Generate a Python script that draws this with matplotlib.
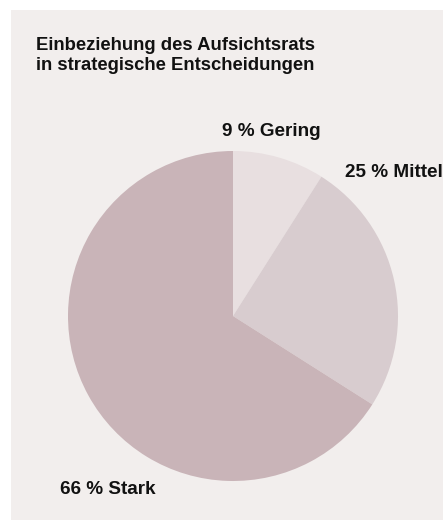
import matplotlib.pyplot as plt
from matplotlib.patches import Rectangle

# Data
categories = ['Gering', 'Mittel', 'Stark']
shares = [9, 25, 66]
colors = ['#e8dfe0', '#d8cccf', '#c9b4b8']
title = 'Einbeziehung des Aufsichtsrats\nin strategische Entscheidungen'

W, H = 443, 520
fig = plt.figure(figsize=(W / 100, H / 100), dpi=100)
fig.patch.set_facecolor('white')

# light panel behind everything
fig.patches.append(Rectangle((11 / W, 0), 1, 1 - 10 / H, transform=fig.transFigure,
                             facecolor='#f2eeed', edgecolor='none', zorder=-5))

font = ['Liberation Sans', 'DejaVu Sans']
fs = 13.6

# pie: center (233, 316) px, radius 165 px
cx, cy, r = 233, 316, 165
ax = fig.add_axes([(cx - r) / W, (H - cy - r) / H, 2 * r / W, 2 * r / H])
ax.set_zorder(1)
ax.patch.set_visible(False)
ax.pie(shares, colors=colors, startangle=90, counterclock=False,
       wedgeprops=dict(linewidth=0))
ax.set_xlim(-1, 1)
ax.set_ylim(-1, 1)
ax.set_aspect('equal')
ax.axis('off')

fig.text(36 / W, 1 - 55.5 / H, title, ha='left', va='center', fontsize=13.3,
         fontweight='bold', family=font, linespacing=1.25, color='#111111')

label_pos = [(222, 131, 'left'), (345, 173, 'left'), (60, 490, 'left')]
for (x, y, ha), cat, val in zip(label_pos, categories, shares):
    fig.text(x / W, 1 - y / H, f'{val} % {cat}', ha=ha, va='center',
             fontsize=fs, fontweight='bold', family=font, color='#111111',
             zorder=2)

fig.savefig('out.png', dpi=100, facecolor=fig.get_facecolor())
